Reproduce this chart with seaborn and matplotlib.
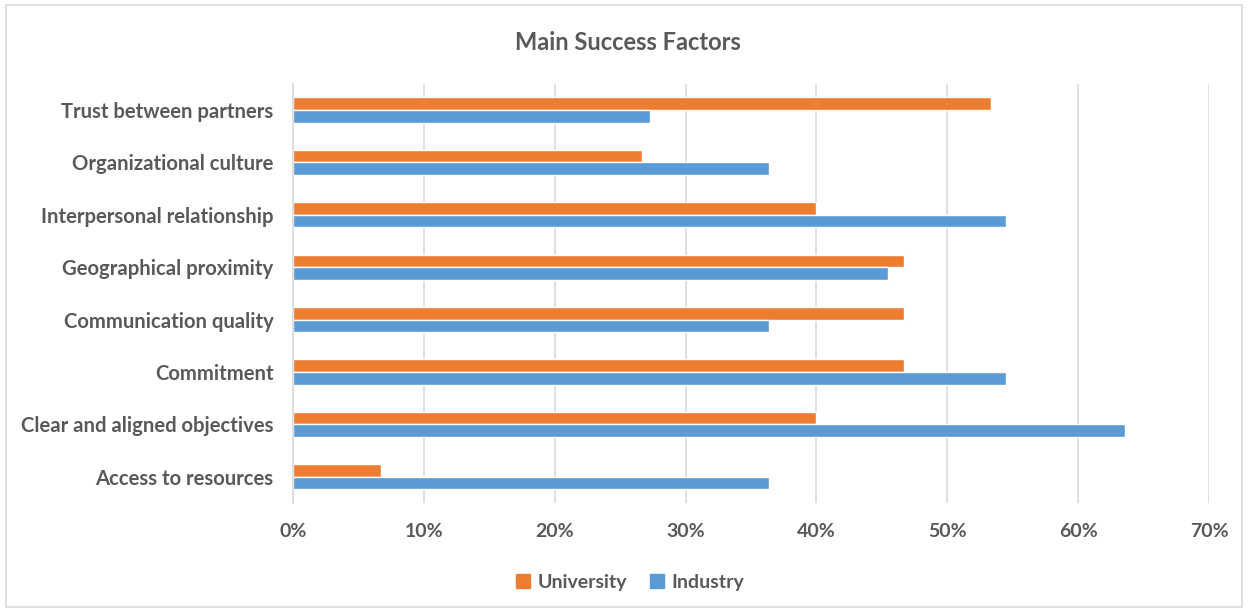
import matplotlib
matplotlib.use("Agg")
import matplotlib.pyplot as plt
import matplotlib.patches as mpatches
import seaborn as sns
import pandas as pd
from matplotlib.ticker import PercentFormatter, MultipleLocator

categories = ["Trust between partners", "Organizational culture", "Interpersonal relationship",
              "Geographical proximity", "Communication quality", "Commitment",
              "Clear and aligned objectives", "Access to resources"]
university = [53.3, 26.7, 40.0, 46.7, 46.7, 46.7, 40.0, 6.7]
industry = [27.3, 36.4, 54.5, 45.5, 36.4, 54.5, 63.6, 36.4]
series = ["University", "Industry"]
colors = ["#ED7D31", "#5B9BD5"]

df = pd.DataFrame({
    "factor": categories * 2,
    "value": university + industry,
    "group": ["University"] * len(categories) + ["Industry"] * len(categories),
})

sns.set_theme(style="white")
plt.rcParams['font.family'] = ['Lato', 'DejaVu Sans']
txt = "#595959"

fig = plt.figure(figsize=(12.48, 6.12), dpi=100)
ax = fig.add_axes([0.2348, 0.178, 0.734, 0.685])

sns.barplot(data=df, y="factor", x="value", hue="group", order=categories,
            hue_order=series, palette=colors, orient="h", width=0.48,
            saturation=1, ax=ax, legend=False)

ax.set_xlim(0, 70)
ax.xaxis.set_major_locator(MultipleLocator(10))
ax.xaxis.set_major_formatter(PercentFormatter(decimals=0))
ax.grid(axis="x", color="#D9D9D9", linewidth=1.2)
ax.set_axisbelow(True)
for s in ["top", "right", "bottom"]:
    ax.spines[s].set_visible(False)
ax.spines["left"].set_color("#D9D9D9")
ax.spines["left"].set_linewidth(1.2)
ax.set_xlabel("")
ax.set_ylabel("")
ax.tick_params(axis="both", length=0, colors=txt)
ax.tick_params(axis="x", pad=14, labelsize=14)
ax.tick_params(axis="y", pad=14, labelsize=14.6)
for lab in ax.get_xticklabels() + ax.get_yticklabels():
    lab.set_fontweight("bold")
    lab.set_color(txt)

fig.text(0.503, 0.931, "Main Success Factors", ha="center", va="center",
         fontsize=17, fontweight="bold", color=txt)

handles = [mpatches.Patch(color=c, label=l) for c, l in zip(colors, series)]
leg = fig.legend(handles=handles, loc="center", bbox_to_anchor=(0.505, 0.049), ncol=2,
                 frameon=False, fontsize=14, handlelength=0.7, handleheight=0.7,
                 handletextpad=0.4, columnspacing=1.2)
for t in leg.get_texts():
    t.set_fontweight("bold")
    t.set_color(txt)

fig.patches.append(mpatches.FancyBboxPatch((0.005, 0.008), 0.99, 0.984,
                   boxstyle="square,pad=0", transform=fig.transFigure,
                   fill=False, edgecolor="#D9D9D9", linewidth=1.2))

fig.savefig("out.png", dpi=100)
